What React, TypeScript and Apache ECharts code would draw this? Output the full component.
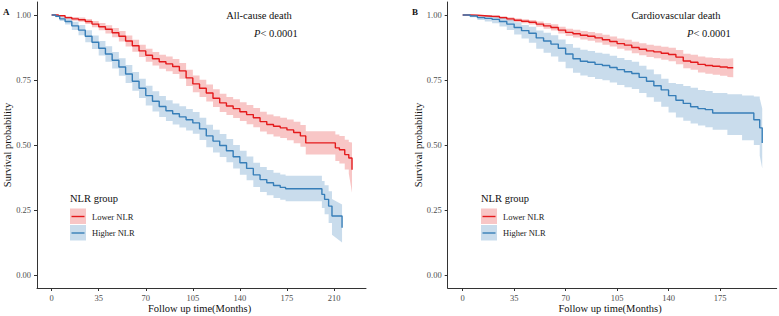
import React, { useEffect, useRef } from "react";
import * as echarts from "echarts";

// ---- Tick labels ----
const yTicks = [0, 0.25, 0.5, 0.75, 1];
const xTicksA = [0, 35, 70, 105, 140, 175, 210];
const xTicksB = [0, 35, 70, 105, 140, 175];

// ---- Panel A: All-cause death ----
const aLowT = [0,5,10,15,20,25,30,35,40,45,50,55,60,65,70,75,80,85,90,95,100,105,110,115,120,125,130,135,140,145,150,155,160,165,170,175,180,185,189,211,214,218,221,223.4];
const aLowS = [1,0.997,0.99,0.985,0.982,0.975,0.965,0.955,0.945,0.932,0.918,0.9,0.882,0.862,0.845,0.832,0.82,0.812,0.802,0.785,0.758,0.735,0.718,0.7,0.68,0.662,0.65,0.64,0.628,0.617,0.605,0.59,0.579,0.572,0.566,0.558,0.548,0.535,0.508,0.489,0.482,0.463,0.45,0.405];
const aLowU = [1,0.999,0.995,0.992,0.99,0.985,0.977,0.969,0.961,0.95,0.938,0.921,0.905,0.886,0.87,0.858,0.847,0.84,0.831,0.815,0.789,0.767,0.751,0.733,0.714,0.697,0.685,0.676,0.664,0.654,0.642,0.628,0.617,0.611,0.605,0.598,0.589,0.577,0.553,0.54,0.535,0.52,0.512,0.51];
const aLowL = [1,0.995,0.985,0.978,0.974,0.965,0.953,0.941,0.929,0.914,0.898,0.879,0.859,0.838,0.82,0.806,0.793,0.784,0.773,0.755,0.727,0.703,0.685,0.667,0.646,0.627,0.615,0.604,0.592,0.58,0.568,0.552,0.541,0.533,0.527,0.518,0.507,0.493,0.463,0.438,0.429,0.406,0.39,0.316];

const aHighT = [0,3,6,10,15,20,25,30,35,40,45,50,55,60,65,70,75,80,85,90,95,100,105,110,115,120,125,130,135,140,145,150,155,160,165,170,174,201,203,206,208.5,216];
const aHighS = [1,0.995,0.985,0.975,0.958,0.942,0.918,0.895,0.872,0.85,0.826,0.8,0.773,0.745,0.718,0.69,0.668,0.648,0.632,0.62,0.608,0.597,0.585,0.562,0.535,0.515,0.498,0.478,0.455,0.432,0.41,0.385,0.367,0.355,0.344,0.337,0.332,0.31,0.291,0.265,0.227,0.182];
const aHighU = [1,0.999,0.993,0.987,0.974,0.962,0.941,0.921,0.9,0.88,0.858,0.834,0.808,0.781,0.755,0.728,0.707,0.688,0.672,0.66,0.649,0.638,0.627,0.605,0.578,0.559,0.542,0.523,0.5,0.478,0.456,0.432,0.415,0.404,0.393,0.387,0.382,0.362,0.345,0.322,0.292,0.271];
const aHighL = [1,0.991,0.977,0.963,0.942,0.922,0.895,0.869,0.844,0.82,0.794,0.766,0.738,0.709,0.681,0.652,0.629,0.608,0.592,0.579,0.567,0.556,0.543,0.519,0.491,0.471,0.454,0.434,0.41,0.386,0.364,0.338,0.319,0.307,0.296,0.289,0.284,0.258,0.234,0.2,0.155,0.125];

// ---- Panel B: Cardiovascular death ----
const bLowT = [0,5,10,15,20,25,30,35,40,45,50,55,60,65,70,75,80,85,90,95,100,105,110,115,120,125,130,135,140,145,150,155,160,165,170,175,180,184];
const bLowS = [1,0.999,0.997,0.995,0.994,0.99,0.985,0.98,0.976,0.972,0.965,0.958,0.952,0.942,0.933,0.928,0.922,0.918,0.912,0.905,0.898,0.89,0.884,0.875,0.868,0.862,0.858,0.853,0.848,0.838,0.823,0.818,0.81,0.806,0.803,0.8,0.797,0.796];
const bLowU = [1,1,0.999,0.998,0.998,0.995,0.991,0.987,0.984,0.981,0.975,0.969,0.964,0.955,0.947,0.943,0.938,0.935,0.93,0.924,0.917,0.91,0.905,0.897,0.891,0.886,0.882,0.878,0.874,0.865,0.851,0.847,0.84,0.837,0.835,0.833,0.832,0.834];
const bLowL = [1,0.998,0.995,0.992,0.99,0.985,0.979,0.973,0.968,0.963,0.955,0.947,0.94,0.929,0.919,0.913,0.906,0.901,0.894,0.886,0.879,0.87,0.863,0.853,0.845,0.838,0.834,0.828,0.822,0.811,0.795,0.789,0.779,0.774,0.77,0.766,0.762,0.761];

const bHighT = [0,5,10,15,20,25,30,35,40,45,50,55,60,65,70,75,80,85,90,95,100,105,110,115,120,125,130,135,140,145,150,155,160,165,170,180,190,198,202,203.7];
const bHighS = [1,0.996,0.99,0.987,0.983,0.975,0.965,0.952,0.94,0.93,0.912,0.9,0.888,0.872,0.85,0.832,0.822,0.818,0.81,0.806,0.798,0.79,0.782,0.775,0.76,0.745,0.728,0.712,0.69,0.672,0.66,0.647,0.64,0.636,0.623,0.623,0.623,0.597,0.566,0.508];
const bHighU = [1,1,0.998,0.997,0.995,0.99,0.983,0.972,0.962,0.955,0.94,0.932,0.922,0.906,0.888,0.874,0.866,0.862,0.855,0.851,0.843,0.835,0.827,0.82,0.805,0.79,0.772,0.755,0.738,0.735,0.727,0.72,0.712,0.708,0.7,0.695,0.69,0.687,0.68,0.64];
const bHighL = [1,0.991,0.981,0.975,0.968,0.956,0.942,0.925,0.91,0.893,0.87,0.855,0.84,0.82,0.795,0.778,0.767,0.762,0.754,0.749,0.74,0.731,0.722,0.715,0.7,0.684,0.666,0.647,0.625,0.606,0.593,0.583,0.575,0.568,0.559,0.538,0.518,0.5,0.46,0.41];

const RED = "#E41A1C";
const BLUE = "#377EB8";
const RED_BAND = "rgba(228,26,28,0.25)";
const BLUE_BAND = "rgba(55,126,184,0.27)";
const FONT = "'Liberation Serif', 'Times New Roman', serif";

// Stepped ribbon; the final interval tapers linearly to the last bounds.
function bandSeries(idx: number, t: number[], lo: number[], up: number[], color: string) {
  return {
    type: "custom",
    coordinateSystem: "cartesian2d",
    xAxisIndex: idx,
    yAxisIndex: idx,
    silent: true,
    z: 1,
    data: [[t[0], up[0]]],
    encode: { x: 0, y: 1 },
    renderItem: (_p: any, api: any) => {
      const pts: number[][] = [];
      const n = t.length;
      for (let i = 0; i < n; i++) {
        pts.push(api.coord([t[i], up[i]]));
        if (i < n - 2) pts.push(api.coord([t[i + 1], up[i]]));
      }
      for (let i = n - 1; i >= 0; i--) {
        if (i < n - 2) pts.push(api.coord([t[i + 1], lo[i]]));
        pts.push(api.coord([t[i], lo[i]]));
      }
      return { type: "polygon", shape: { points: pts }, style: { fill: color } };
    },
  };
}

function lineSeries(idx: number, t: number[], s: number[], color: string) {
  return {
    type: "line",
    xAxisIndex: idx,
    yAxisIndex: idx,
    step: "end",
    symbol: "none",
    silent: true,
    z: 3,
    lineStyle: { color, width: 1.4 },
    data: t.map((v, i) => [v, s[i]]),
  };
}

const axisCommon = {
  axisLine: { show: true, onZero: false, lineStyle: { color: "#333", width: 1 } },
  axisTick: { show: true, length: 3, lineStyle: { color: "#333" } },
  splitLine: { show: false },
};

function xAxis(idx: number, min: number, max: number, ticks: number[]) {
  return {
    type: "value",
    gridIndex: idx,
    min,
    max,
    ...axisCommon,
    axisTick: { ...axisCommon.axisTick, customValues: ticks },
    axisLabel: {
      customValues: ticks,
      margin: 5,
      color: "#4d4d4d",
      fontSize: 8.5,
      fontFamily: FONT,
      formatter: (v: number) => String(v),
    },
  };
}

function yAxis(idx: number) {
  return {
    type: "value",
    gridIndex: idx,
    min: -0.05,
    max: 1.05,
    ...axisCommon,
    axisTick: { ...axisCommon.axisTick, customValues: yTicks },
    axisLabel: {
      customValues: yTicks,
      margin: 6,
      color: "#4d4d4d",
      fontSize: 8.5,
      fontFamily: FONT,
      formatter: (v: number) => v.toFixed(2),
    },
  };
}

function txt(x: number, y: number, text: string, size: number, extra: any = {}, rot = 0) {
  return {
    type: "text",
    x,
    y,
    rotation: rot,
    silent: true,
    style: {
      text,
      fontSize: size,
      fontFamily: FONT,
      fill: "#111",
      align: "left",
      verticalAlign: "middle",
      ...extra,
    },
  };
}

function legend(x: number) {
  return [
    txt(x, 198, "NLR group", 10.5),
    { type: "rect", x, y: 208.5, shape: { x: 0, y: 0, width: 16, height: 15.5 }, style: { fill: RED_BAND } },
    { type: "rect", x, y: 225, shape: { x: 0, y: 0, width: 16, height: 15.5 }, style: { fill: BLUE_BAND } },
    { type: "line", shape: { x1: x + 1.5, y1: 216.5, x2: x + 14.5, y2: 216.5 }, style: { stroke: RED, lineWidth: 1.4 } },
    { type: "line", shape: { x1: x + 1.5, y1: 233, x2: x + 14.5, y2: 233 }, style: { stroke: BLUE, lineWidth: 1.4 } },
    txt(x + 22, 216.5, "Lower NLR", 8.5, { fill: "#222" }),
    txt(x + 22, 233, "Higher NLR", 8.5, { fill: "#222" }),
  ];
}

function pText(x: number) {
  return {
    type: "text",
    x,
    y: 33,
    silent: true,
    style: {
      text: "{i|P}< 0.0001",
      fontSize: 10.5,
      fontFamily: FONT,
      fill: "#111",
      align: "left",
      verticalAlign: "middle",
      rich: { i: { fontStyle: "italic", fontSize: 10.5, fontFamily: FONT, fill: "#111" } },
    },
  };
}

export default function App() {
  const ref = useRef<HTMLDivElement>(null);
  useEffect(() => {
    if (!ref.current) return;
    const chart = echarts.init(ref.current, undefined, { renderer: "svg" });
    chart.setOption({
      animation: false,
      backgroundColor: "#fff",
      grid: [
        { left: 37, top: 2, width: 329, height: 286 },
        { left: 447.7, top: 2, width: 329, height: 286 },
      ],
      xAxis: [xAxis(0, -10.9, 233.8, xTicksA), xAxis(1, -10.2, 213.55, xTicksB)],
      yAxis: [yAxis(0), yAxis(1)],
      series: [
        bandSeries(0, aLowT, aLowL, aLowU, RED_BAND),
        bandSeries(0, aHighT, aHighL, aHighU, BLUE_BAND),
        lineSeries(0, aLowT, aLowS, RED),
        lineSeries(0, aHighT, aHighS, BLUE),
        bandSeries(1, bLowT, bLowL, bLowU, RED_BAND),
        bandSeries(1, bHighT, bHighL, bHighU, BLUE_BAND),
        lineSeries(1, bLowT, bLowS, RED),
        lineSeries(1, bHighT, bHighS, BLUE),
      ],
      graphic: [
        txt(3, 12, "A", 9, { fontWeight: "bold" }),
        txt(412, 12, "B", 9, { fontWeight: "bold" }),
        txt(259, 15, "All-cause death", 10.5, { align: "center" }),
        pText(254),
        txt(676, 15, "Cardiovascular death", 10.5, { align: "center" }),
        pText(687),
        txt(7.5, 145, "Survival probability", 10.5, { align: "center" }, Math.PI / 2),
        txt(418.5, 145, "Survival probability", 10.5, { align: "center" }, Math.PI / 2),
        txt(199.5, 308, "Follow up time(Months)", 10.5, { align: "center" }),
        txt(610, 308, "Follow up time(Months)", 10.5, { align: "center" }),
        ...legend(70),
        ...legend(481),
      ],
    });
    return () => chart.dispose();
  }, []);
  return (
    <div
      ref={ref}
      style={{ position: "absolute", left: 0, top: 0, width: 779, height: 316 }}
    />
  );
}
